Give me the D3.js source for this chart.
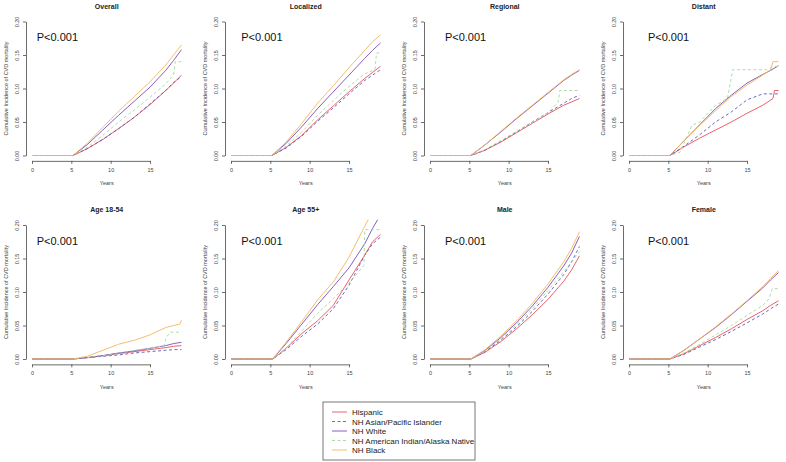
<!DOCTYPE html>
<html>
<head>
<meta charset="utf-8">
<script src="https://cdn.jsdelivr.net/npm/d3@7"></script>
<style>
  body { margin: 0; background: #fff; }
  svg { font-family: "Liberation Sans", Arial, sans-serif; }
</style>
</head>
<body>
<svg id="chart" width="786" height="462"></svg>
<script>
// groups, in legend (and drawing) order
const races = ['Hispanic', 'NH Asian/Pacific Islander', 'NH White', 'NH American Indian/Alaska Native', 'NH Black'];
const raceColors = ['#e8505b', '#5a5ab8', '#7a4fb5', '#a3d9a0', '#f5b55e'];
const raceDashed = [false, true, false, true, false];

const panelTitles = ['Overall', 'Localized', 'Regional', 'Distant', 'Age 18-54', 'Age 55+', 'Male', 'Female'];
const xTicks = [0, 5, 10, 15];
const yTicks = [0, 0.05, 0.10, 0.15, 0.20];
const pLabel = 'P<0.001';

// follow-up years (all groups are 0 before ~5.2)
const grid = [0, 5.2, 7, 9, 11, 13, 15, 17, 18, 19];

// cumulative incidence per group, one row per race (same order as races)
const overall = [
  [0, 0, .010, .024, .040, .057, .076, .097, .108, .120],
  [0, 0, .010, .024, .040, .057, .077, .097, .109, .118],
  [0, 0, .016, .038, .060, .081, .102, .127, .142, .158],
  [[0, 0], [5.2, 0], [7, .012], [9, .030], [11, .050], [13, .068], [15, .087], [17, .107], [18, .120], [18.2, .140], [19, .140]],
  [0, 0, .018, .042, .066, .088, .110, .135, .150, .165]
];
const localized = [
  [0, 0, .012, .030, .053, .074, .095, .115, .124, .133],
  [0, 0, .011, .029, .051, .071, .092, .112, .120, .128],
  [0, 0, .018, .043, .070, .095, .120, .145, .157, .168],
  [[0, 0], [5.2, 0], [7, .014], [9, .035], [11, .060], [13, .082], [15, .103], [17, .122], [18.3, .128], [18.5, .153], [19, .153]],
  [0, 0, .020, .048, .078, .104, .131, .157, .170, .180]
];
const regional = [
  [0, 0, .008, .020, .034, .048, .062, .075, .080, .085],
  [0, 0, .008, .021, .035, .050, .064, .078, .085, .090],
  [0, 0, .016, .035, .055, .074, .093, .112, .120, .127],
  [[0, 0], [5.2, 0], [7, .009], [9, .022], [11, .036], [13, .050], [15, .064], [16.3, .080], [16.5, .097], [19, .097]],
  [0, 0, .016, .036, .056, .075, .094, .113, .121, .128]
];
const distant = [
  [[0, 0], [5.2, 0], [7, .013], [9, .026], [11, .038], [13, .050], [15, .063], [17, .075], [18.3, .085], [18.5, .097], [19, .097]],
  [[0, 0], [5.2, 0], [7, .014], [9, .031], [11, .050], [13, .065], [15, .083], [17, .092], [19, .092]],
  [0, 0, .022, .046, .070, .090, .108, .121, .127, .134],
  [[0, 0], [5.2, 0], [6.5, .005], [8, .045], [9, .050], [11, .075], [12.5, .085], [13.2, .128], [17.5, .128], [18.5, .133], [19, .133]],
  [[0, 0], [5.2, 0], [7, .022], [9, .045], [11, .067], [13, .088], [15, .105], [17, .120], [18, .128], [18.3, .140], [19, .140]]
];
const age1854 = [
  [0, 0, .002, .005, .008, .011, .014, .017, .019, .020],
  [0, 0, .002, .004, .006, .009, .011, .013, .014, .014],
  [0, 0, .002, .005, .009, .012, .016, .020, .023, .025],
  [[0, 0], [5.2, 0], [7, .002], [9, .005], [11, .008], [13, .013], [15, .016], [16.8, .020], [17, .030], [17.5, .040], [19, .040]],
  [[0, 0], [5.2, 0], [7, .004], [9, .013], [11, .022], [13, .028], [15, .036], [17, .047], [18, .050], [18.8, .052], [19, .058]]
];
const age55 = [
  [[0, 0], [5.3, 0], [7, .016], [9, .038], [11, .057], [13, .080], [15, .118], [17, .155], [18, .175], [19, .186]],
  [[0, 0], [5.3, 0], [7, .014], [9, .034], [11, .052], [13, .075], [15, .110], [17, .155], [18, .172], [19, .182]],
  [[0, 0], [5.3, 0], [7, .023], [9, .052], [11, .081], [13, .108], [15, .136], [17, .172], [18, .195], [19, .215]],
  [[0, 0], [5.3, 0], [7, .016], [9, .042], [11, .068], [13, .090], [15, .113], [16.9, .140], [17, .193], [19, .193]],
  [[0, 0], [5.3, 0], [7, .025], [9, .056], [11, .088], [13, .115], [15, .152], [17, .198], [18, .220]]
];
const male = [
  [0, 0, .010, .026, .045, .066, .089, .116, .133, .154],
  [0, 0, .011, .028, .048, .071, .097, .126, .145, .168],
  [0, 0, .013, .032, .054, .079, .107, .139, .158, .183],
  [0, 0, .012, .030, .051, .075, .102, .130, .145, .160],
  [0, 0, .014, .034, .057, .083, .112, .145, .165, .190]
];
const female = [
  [0, 0, .008, .020, .032, .045, .059, .072, .080, .087],
  [0, 0, .007, .018, .029, .041, .054, .067, .075, .082],
  [0, 0, .013, .030, .047, .066, .086, .106, .118, .129],
  [[0, 0], [5.2, 0], [7, .009], [9, .022], [11, .036], [13, .050], [15, .065], [17, .080], [17.8, .090], [18.2, .105], [19, .105]],
  [0, 0, .013, .030, .048, .067, .087, .108, .120, .132]
];
const panelData = [overall, localized, regional, distant, age1854, age55, male, female];

// where the P label sits in each column (years)
const pLabelX = [0.6, 1.3, 1.9, 2.4];

// turn a row of values on the grid (or explicit pairs) into points
function toPoints(row) {
  if (Array.isArray(row[0])) return row.map(d => ({ t: d[0], v: d[1] }));
  return row.map((v, i) => ({ t: grid[i], v }));
}

const svg = d3.select('#chart');

panelData.forEach((series, p) => {
  const col = p % 4;
  const row = Math.floor(p / 4);
  const x0 = 32 + 199 * col;
  const dy = 203.5 * row;

  const x = d3.scaleLinear().domain([0, 15]).range([x0, x0 + 118]);
  const y = d3.scaleLinear().domain([0, 0.2]).range([155.5 + dy, 21.5 + dy]);

  const left = x(-0.76), right = x(19.76);
  const top = y(0.208), bottom = y(-0.008);

  const g = svg.append('g');

  // clip like R plot region
  const clipId = 'clip' + p;
  g.append('clipPath').attr('id', clipId)
    .append('rect')
    .attr('x', left).attr('y', top)
    .attr('width', right - left).attr('height', bottom - top);

  // title
  g.append('text')
    .attr('x', (left + right) / 2)
    .attr('y', 8.5 + dy)
    .attr('text-anchor', 'middle')
    .attr('font-size', 7)
    .attr('font-weight', 'bold')
    .attr('fill', '#222')
    .text(panelTitles[p]);

  // x axis
  const xAxis = g.append('g')
    .attr('transform', `translate(0,${bottom})`)
    .call(d3.axisBottom(x).tickValues(xTicks).tickSize(3).tickSizeOuter(0).tickPadding(4).tickFormat(d3.format('d')));
  xAxis.selectAll('text').attr('font-size', 5.5).attr('fill', '#444');

  // y axis
  const yAxis = g.append('g')
    .attr('transform', `translate(${left},0)`)
    .call(d3.axisLeft(y).tickValues(yTicks).tickSize(3).tickSizeOuter(0).tickFormat(d3.format('.2f')));
  yAxis.selectAll('text')
    .attr('x', null).attr('dy', null)
    .attr('transform', 'translate(-7,0) rotate(-90)')
    .attr('text-anchor', 'middle')
    .attr('font-size', 5.5)
    .attr('fill', '#444');

  [xAxis, yAxis].forEach(a => {
    a.selectAll('path, line').attr('stroke', '#444').attr('stroke-width', 0.8);
  });

  // axis labels
  g.append('text')
    .attr('x', (left + right) / 2)
    .attr('y', 185 + dy)
    .attr('text-anchor', 'middle')
    .attr('font-size', 5.5)
    .attr('fill', '#444')
    .text('Years');

  g.append('text')
    .attr('transform', `translate(${left - 18},${(top + bottom) / 2}) rotate(-90)`)
    .attr('text-anchor', 'middle')
    .attr('font-size', 5.5)
    .attr('fill', '#444')
    .text('Cumulative Incidence of CVD mortality');

  // P value
  g.append('text')
    .attr('x', x(pLabelX[col]))
    .attr('y', 41 + dy)
    .attr('font-size', 11)
    .attr('fill', '#111')
    .text(pLabel);

  // curves
  const line = d3.line().x(d => x(d.t)).y(d => y(d.v));
  const lines = g.append('g').attr('clip-path', `url(#${clipId})`);
  series.forEach((s, i) => {
    lines.append('path')
      .datum(toPoints(s))
      .attr('d', line)
      .attr('fill', 'none')
      .attr('stroke', raceColors[i])
      .attr('stroke-width', 0.9)
      .attr('stroke-dasharray', raceDashed[i] ? '3,2.5' : null);
  });
});

// legend
const legend = svg.append('g').attr('transform', 'translate(323,402)');
legend.append('rect')
  .attr('width', 152).attr('height', 58)
  .attr('fill', 'none')
  .attr('stroke', '#555')
  .attr('stroke-width', 0.8);

races.forEach((r, i) => {
  const ly = 10 + i * 9.5;
  legend.append('line')
    .attr('x1', 9).attr('x2', 24)
    .attr('y1', ly).attr('y2', ly)
    .attr('stroke', raceColors[i])
    .attr('stroke-width', 0.9)
    .attr('stroke-dasharray', raceDashed[i] ? '3,2.5' : null);
  legend.append('text')
    .attr('x', 29).attr('y', ly + 3)
    .attr('font-size', 8)
    .attr('fill', '#222')
    .text(r);
});
</script>
</body>
</html>
